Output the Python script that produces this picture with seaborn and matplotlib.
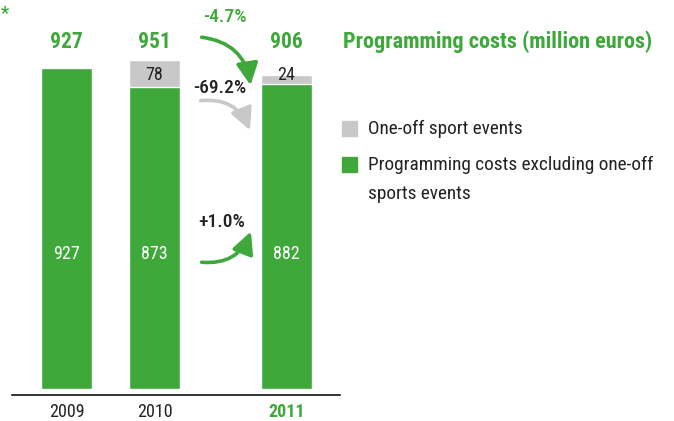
import matplotlib
matplotlib.use("Agg")
import matplotlib.pyplot as plt
import seaborn as sns
import pandas as pd

# Data
years = ["2009", "2010", "2011"]
positions = [0, 1, 2.5]
totals = [927, 951, 906]
core_costs = [927, 873, 882]
one_off = [0, 78, 24]

GREEN = "#3ea83a"
GREY = "#c8c8c8"
DARK = "#222222"

sns.set_theme(style="white")
plt.rcParams["font.family"] = ["Roboto Condensed", "DejaVu Sans"]

df = pd.DataFrame({"pos": positions, "total": totals, "core": core_costs, "year": years})

fig = plt.figure(figsize=(6.74, 4.21), dpi=100)
ax = fig.add_axes([12 / 674, 26 / 421, 328 / 674, 395 / 421])

# stacked bars: grey total behind, green core on top
sns.barplot(data=df, x="pos", y="total", native_scale=True, color=GREY,
            width=51 / 88, saturation=1, ax=ax)
sns.barplot(data=df, x="pos", y="core", native_scale=True, color=GREEN,
            width=51 / 88, saturation=1, ax=ax)

ax.set_xlim(-0.62, 3.11)
ax.set_ylim(-17.3, 1124)
ax.set_xlabel("")
ax.set_ylabel("")
ax.set_yticks([])
ax.set_xticks(positions)
ax.set_xticklabels(years, fontsize=13)
ax.tick_params(axis="x", length=0, pad=6)
for lbl in ax.get_xticklabels():
    if lbl.get_text() == "2011":
        lbl.set_color(GREEN)
        lbl.set_fontweight("bold")
    else:
        lbl.set_color(DARK)
for s in ["top", "left", "right"]:
    ax.spines[s].set_visible(False)
ax.spines["bottom"].set_color("#111111")
ax.spines["bottom"].set_linewidth(1.2)

# value labels
for p, t, c, o in zip(positions, totals, core_costs, one_off):
    ax.text(p, 1003, f"{t}", ha="center", va="center", color=GREEN,
            fontsize=15.5, fontweight="bold")
    ax.text(p, 390, f"{c}", ha="center", va="center", color="white", fontsize=13)
    if o:
        ax.text(p, 907, f"{o}", ha="center", va="center", color=DARK, fontsize=13)

# change arrows
def px(x, y):
    return ((x - 66.5) / 88, (389 - y) / 0.346)

arrow_kw = dict(arrowstyle="-|>,head_length=1.1,head_width=0.55", lw=2.6)
ax.annotate("", xy=px(251, 88), xytext=px(199, 37),
            arrowprops=dict(color=GREEN, connectionstyle="arc3,rad=-0.4", **arrow_kw))
ax.annotate("", xy=px(251, 133), xytext=px(198, 101),
            arrowprops=dict(color=GREY, connectionstyle="arc3,rad=-0.4", **arrow_kw))
ax.annotate("", xy=px(252, 229), xytext=px(199, 262),
            arrowprops=dict(color=GREEN, connectionstyle="arc3,rad=0.4", **arrow_kw))
ax.text(*px(225, 17), "-4.7%", ha="center", va="center", color=GREEN,
        fontsize=14, fontweight="medium")
ax.text(*px(220, 88), "-69.2%", ha="center", va="center", color=DARK,
        fontsize=14, fontweight="medium")
ax.text(*px(222, 222), "+1.0%", ha="center", va="center", color=DARK,
        fontsize=14, fontweight="medium")

# title, asterisk and legend
fig.text(343 / 674, 1 - 42 / 421, "Programming costs (million euros)", color=GREEN,
         fontsize=16, fontweight="bold", ha="left", va="center")
fig.text(1 / 674, 1 - 14 / 421, "*", color=GREEN, fontsize=13, fontweight="bold",
         ha="left", va="center")
fig.patches.append(plt.Rectangle((342 / 674, 1 - 136 / 421), 15 / 674, 15 / 421,
                                 color=GREY, transform=fig.transFigure))
fig.patches.append(plt.Rectangle((342 / 674, 1 - 172 / 421), 15 / 674, 15 / 421,
                                 color=GREEN, transform=fig.transFigure))
fig.text(368 / 674, 1 - 129 / 421, "One-off sport events", color=DARK,
         fontsize=13.9, ha="left", va="center")
fig.text(368 / 674, 1 - 165 / 421, "Programming costs excluding one-off", color=DARK,
         fontsize=13.9, ha="left", va="center")
fig.text(368 / 674, 1 - 194 / 421, "sports events", color=DARK,
         fontsize=13.9, ha="left", va="center")

fig.savefig("out.png", dpi=100)
